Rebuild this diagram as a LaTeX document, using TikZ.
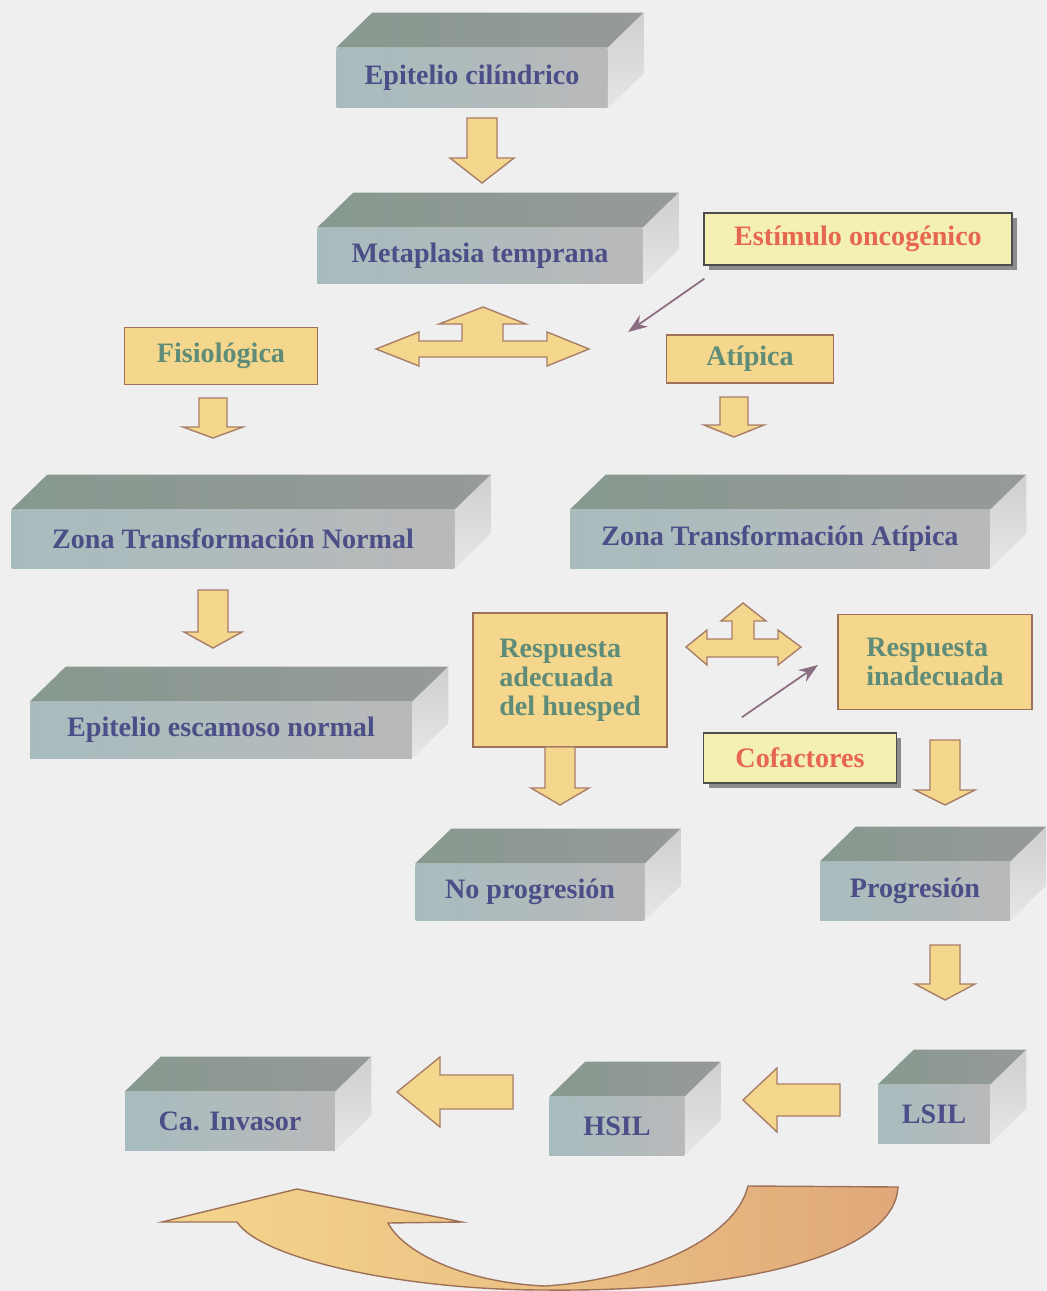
\documentclass[tikz,border=0pt]{standalone}
\usepackage{fontspec}
\setmainfont{Liberation Serif}
\usetikzlibrary{arrows.meta,shadows}
\definecolor{fondo}{HTML}{EFEFEF}
\definecolor{frenteA}{HTML}{A8BCBE}
\definecolor{frenteB}{HTML}{B9B9BA}
\definecolor{techoA}{HTML}{87998F}
\definecolor{techoB}{HTML}{979A98}
\definecolor{ladoA}{HTML}{CFCFCF}
\definecolor{ladoB}{HTML}{E6E6E6}
\definecolor{tcaja}{HTML}{4B4E87}
\definecolor{amarillo}{HTML}{F4D68C}
\definecolor{borde}{HTML}{9E7058}
\definecolor{tverde}{HTML}{5E8C78}
\definecolor{palido}{HTML}{F3F0B2}
\definecolor{rojo}{HTML}{E6664F}
\definecolor{malva}{HTML}{8C6E82}
\definecolor{naranja}{HTML}{E0A87A}
\tikzset{frente/.style={left color=frenteA, right color=frenteB, inner sep=2pt, text=tcaja,
  font=\bfseries\fontsize{16}{16}\selectfont}}
\tikzset{amarilla/.style={draw=borde, line width=0.8pt, fill=amarillo, inner sep=2pt, text=tverde,
  align=left, font=\bfseries\fontsize{16}{16.5}\selectfont}}
\tikzset{aviso/.style={draw=black!70, line width=0.8pt, fill=palido, inner sep=2pt, text=rojo,
  drop shadow={shadow xshift=0.1cm, shadow yshift=-0.1cm, fill=black!45, opacity=1},
  font=\bfseries\fontsize{16}{16}\selectfont}}
\tikzset{bloque/.style={draw=borde!90, line width=0.8pt, fill=amarillo, line join=miter}}
\tikzset{fina/.style={draw=malva, line width=1pt, -{Stealth[length=11pt,width=8pt]}}}
% caras de arriba y de la derecha de una caja
\newcommand{\prisma}[1]{%
  \shade[left color=techoA, right color=techoB] (#1.north west) -- ++(36,-35)
    -- ([shift={(36,-35)}]#1.north east) -- (#1.north east) -- cycle;
  \shade[top color=ladoA, bottom color=ladoB] (#1.north east) -- ++(36,-35)
    -- ([shift={(36,-35)}]#1.south east) -- (#1.south east) -- cycle;}
% flecha gruesa hacia abajo: x, arriba, base de punta, punta, medio ancho, medio ancho punta
\newcommand{\bajar}[6]{%
  \filldraw[bloque] ({#1-#5},#2) -- ({#1+#5},#2) -- ({#1+#5},#3) -- ({#1+#6},#3)
    -- (#1,#4) -- ({#1-#6},#3) -- ({#1-#5},#3) -- cycle;}
% flecha gruesa hacia la izquierda: y, cola, base de punta, punta, medio ancho, medio ancho punta
\newcommand{\izquierda}[6]{%
  \filldraw[bloque] (#2,{#1-#5}) -- (#2,{#1+#5}) -- (#3,{#1+#5}) -- (#3,{#1+#6})
    -- (#4,#1) -- (#3,{#1-#6}) -- (#3,{#1-#5}) -- cycle;}

\begin{document}
\begin{tikzpicture}[x=0.02cm,y=-0.02cm]
  \fill[fondo] (0,0) rectangle (1047,1291);
  \useasboundingbox (0,0) rectangle (1047,1291);

  % cajas
  \node[frente, minimum width=5.42cm, minimum height=1.2cm] (epitelio) at (472,78) {Epitelio cilíndrico};
  \prisma{epitelio}
  \node[frente, minimum width=6.5cm, minimum height=1.12cm] (metaplasia) at (480,256) {Metaplasia temprana};
  \prisma{metaplasia}
  \node[frente, minimum width=8.86cm, minimum height=1.16cm] (ztnormal) at (233,539) {Zona Transformación Normal};
  \prisma{ztnormal}
  \node[frente, minimum width=8.4cm, minimum height=1.16cm] (ztatipica) at (780,539) {Zona Transformación Atípica};
  \prisma{ztatipica}
  \node[frente, minimum width=7.64cm, minimum height=1.12cm] (escamoso) at (221,730) {Epitelio escamoso normal};
  \prisma{escamoso}
  \node[frente, minimum width=4.58cm, minimum height=1.12cm] (noprog) at (530,892) {No progresión};
  \prisma{noprog}
  \node[frente, minimum width=3.8cm, minimum height=1.16cm] (prog) at (915,891) {Progresión};
  \prisma{prog}
  \node[frente, minimum width=4.2cm, minimum height=1.16cm] (invasor) at (230,1121) {Ca. Invasor};
  \prisma{invasor}
  \node[frente, minimum width=2.7cm, minimum height=1.16cm] (hsil) at (617,1126) {HSIL};
  \prisma{hsil}
  \node[frente, minimum width=2.24cm, minimum height=1.16cm] (lsil) at (934,1114) {LSIL};
  \prisma{lsil}

  % rectangulos amarillos
  \node[amarilla, minimum width=3.86cm, minimum height=1.14cm] (fisio) at (221,356) {Fisiológica};
  \node[amarilla, minimum width=3.34cm, minimum height=0.96cm] (atipica) at (750,359) {Atípica};
  \node[amarilla, minimum width=3.88cm, minimum height=2.68cm] (adecuada) at (570,680) {Respuesta\\adecuada\\del huesped};
  \node[amarilla, minimum width=3.88cm, minimum height=1.9cm] (inadecuada) at (935,662) {Respuesta\\inadecuada};
  \node[aviso, minimum width=6.16cm, minimum height=1.04cm] (estimulo) at (858,239) {Estímulo oncogénico};
  \node[aviso, minimum width=3.86cm, minimum height=1cm] (cofactores) at (800,758) {Cofactores};

  % flechas gruesas
  \bajar{482}{118}{158}{183}{15}{32}
  \bajar{213}{398}{427}{438}{14}{30}
  \bajar{734}{397}{425}{437}{14}{30}
  \bajar{213}{590}{632}{648}{15}{29}
  \bajar{560}{747}{788}{805}{15}{29}
  \bajar{945}{740}{790}{805}{15}{30}
  \bajar{945}{945}{984}{1000}{15}{30}
  \izquierda{1092}{513}{440}{397}{17}{35}
  \izquierda{1100}{840}{777}{743}{16}{32}

  % flechas de tres puntas
  \filldraw[bloque] (376,349) -- (419,332) -- (419,341) -- (462,341) -- (462,324) -- (439,324)
    -- (483,307) -- (526,324) -- (503,324) -- (503,341) -- (547,341) -- (547,332) -- (589,349)
    -- (547,366) -- (547,357) -- (419,357) -- (419,366) -- cycle;
  \filldraw[bloque] (686,647) -- (707,630) -- (707,639) -- (732,639) -- (732,621) -- (721,621)
    -- (743,603) -- (766,621) -- (754,621) -- (754,639) -- (778,639) -- (778,630) -- (801,647)
    -- (778,665) -- (778,657) -- (707,657) -- (707,665) -- cycle;

  % flechas finas
  \coordinate (puntaE) at (628,332);
  \coordinate (puntaC) at (818,665);
  \draw[fina] ([shift={(1,13)}]estimulo.south west) -- (puntaE);
  \draw[fina] ([shift={(39,-15)}]cofactores.north west) -- (puntaC);

  % flecha curva de abajo
  \shade[left color=amarillo, right color=naranja, middle color=amarillo!55!naranja]
    (162,1222) -- (297,1189) -- (462,1222) -- (388,1223)
    .. controls (405,1255) and (470,1283) .. (545,1286)
    .. controls (640,1280) and (735,1240) .. (748,1186) -- (898,1187)
    .. controls (895,1250) and (760,1292) .. (545,1290)
    .. controls (400,1290) and (260,1258) .. (237,1222) -- cycle;
  \draw[borde, line width=0.8pt, line join=miter]
    (162,1222) -- (297,1189) -- (462,1222) -- (388,1223)
    .. controls (405,1255) and (470,1283) .. (545,1286)
    .. controls (640,1280) and (735,1240) .. (748,1186) -- (898,1187)
    .. controls (895,1250) and (760,1292) .. (545,1290)
    .. controls (400,1290) and (260,1258) .. (237,1222) -- cycle;
\end{tikzpicture}
\end{document}
